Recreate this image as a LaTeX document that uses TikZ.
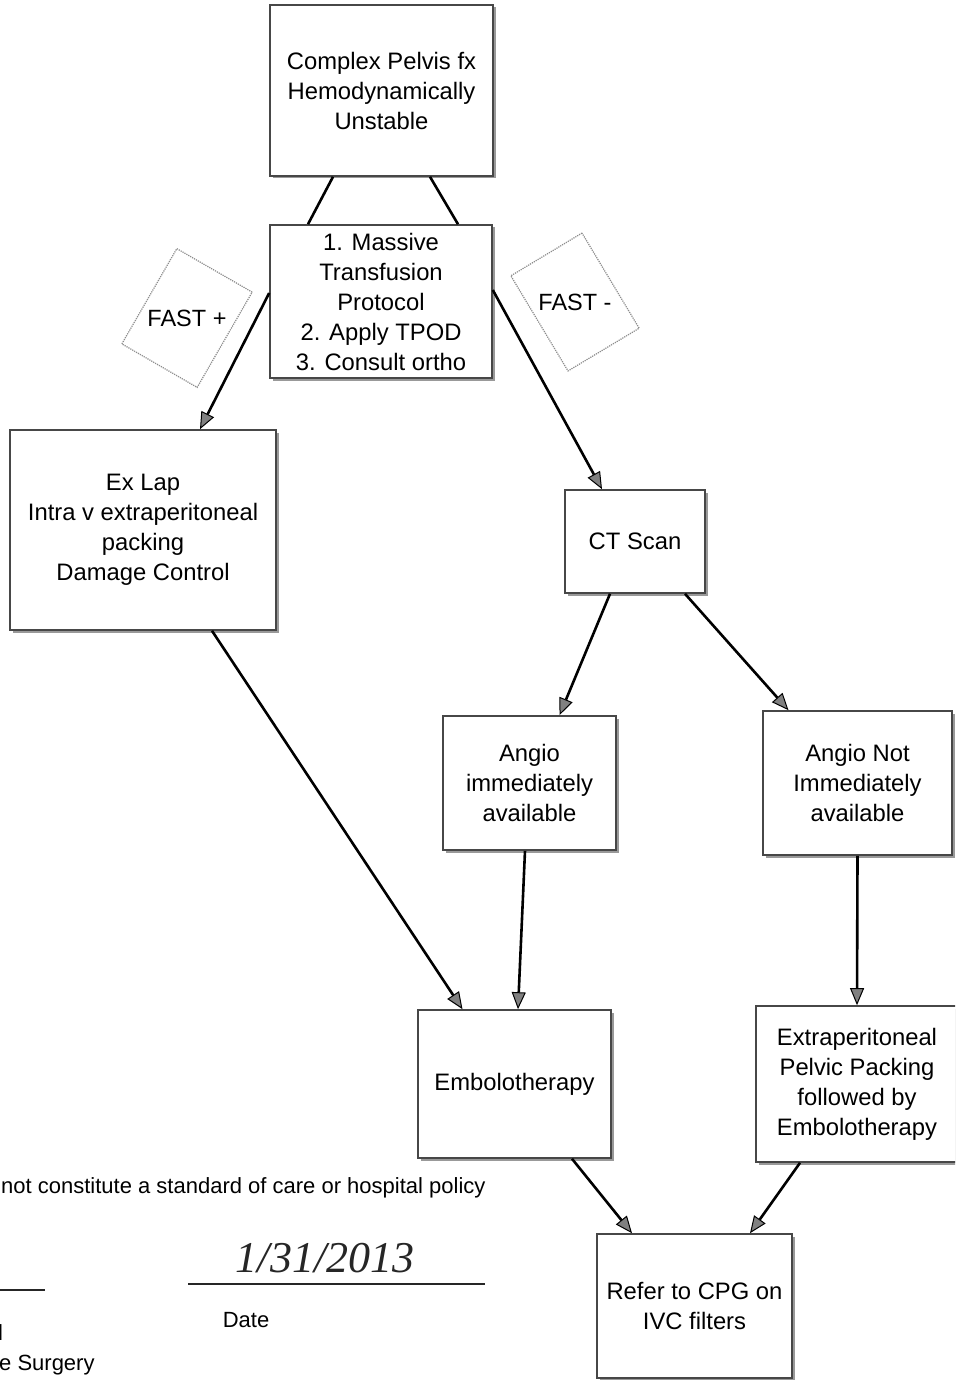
\documentclass[tikz,border=0pt]{standalone}
\usepackage{fontspec}
\setmainfont{Liberation Sans}
\newfontfamily\handfont{Liberation Serif}
\usetikzlibrary{arrows.meta,shadows}
\tikzset{
  box/.style={draw=black!72, line width=1.6pt, fill=white, align=center, inner sep=0pt,
    font=\fontsize{23.8}{30}\selectfont,
    drop shadow={shadow xshift=2.5pt, shadow yshift=-2.5pt, fill=black!40, opacity=1}},
  fastbox/.style={draw=black!45, line width=1.2pt, densely dotted, fill=white, inner sep=0pt},
  fasttext/.style={font=\fontsize{23.5}{30}\selectfont, inner sep=0pt},
  link/.style={draw=black, line width=2.6pt},
  arr/.style={link, -{Triangle[length=17pt,width=14pt,fill=black!50,line width=1pt]}},
  note/.style={font=\fontsize{22}{26}\selectfont, inner sep=0pt}
}
\begin{document}
\begin{tikzpicture}[x=1pt,y=-1pt]
\clip (0,0) rectangle (955,1380);
\fill[white] (0,0) rectangle (955,1380);

% boxes
\node[box, minimum width=223pt, minimum height=171pt] (top) at (381.5,90.5)
  {Complex Pelvis fx\\Hemodynamically\\Unstable};
\node[box, minimum width=222pt, minimum height=153pt] (mtp) at (381,301.5)
  {1. Massive\\Transfusion\\Protocol\\2. Apply TPOD\\3. Consult ortho};
\node[box, minimum width=266pt, minimum height=200pt] (exlap) at (143,530)
  {Ex Lap\\Intra v extraperitoneal\\packing\\Damage Control};
\node[box, minimum width=140pt, minimum height=103pt] (ct) at (635,541.5) {CT Scan};
\node[box, minimum width=173pt, minimum height=134pt] (angio) at (529.5,783)
  {Angio\\immediately\\available};
\node[box, minimum width=189pt, minimum height=144pt] (anot) at (857.5,783)
  {Angio Not\\Immediately\\available};
\node[box, minimum width=193pt, minimum height=148pt] (embolo) at (514.5,1084) {Embolotherapy};
\node[box, minimum width=202pt, minimum height=156pt] (extra) at (857,1084)
  {Extraperitoneal\\Pelvic Packing\\followed by\\Embolotherapy};
\node[box, minimum width=195pt, minimum height=144pt] (refer) at (694.5,1306)
  {Refer to CPG on\\IVC filters};

% FAST labels
\node[fastbox, rotate=-30, minimum width=87pt, minimum height=110pt] (fpbox) at (187,318) {};
\node[fasttext] (fp) at (fpbox.center) {FAST +};
\node[fastbox, rotate=31, minimum width=83pt, minimum height=111pt] (fmbox) at (575,302) {};
\node[fasttext] (fm) at (fmbox.center) {FAST -};

% connectors
\draw[link] ([xshift=-48.5pt]top.south) -- ([xshift=-73pt]mtp.north);
\draw[link] ([xshift=48.5pt]top.south) -- ([xshift=77pt]mtp.north);
\draw[arr] ([yshift=8.5pt]mtp.west) -- ([xshift=57pt]exlap.north);
\draw[arr] ([yshift=11.5pt]mtp.east) -- ([xshift=-33pt]ct.north);
\draw[arr] ([xshift=69pt]exlap.south) -- ([xshift=-52pt]embolo.north);
\draw[arr] ([xshift=-25pt]ct.south) -- ([xshift=30pt]angio.north);
\draw[arr] ([xshift=50pt]ct.south) -- ([xshift=-69pt]anot.north);
\draw[arr] ([xshift=-4.5pt]angio.south) -- ([xshift=3.5pt]embolo.north);
\draw[arr] (anot.south) -- (extra.north);
\draw[arr] ([xshift=57.5pt]embolo.south) -- ([xshift=-62.5pt]refer.north);
\draw[arr] ([xshift=-57pt]extra.south) -- ([xshift=55.5pt]refer.north);

% footer text
\node[note, anchor=base west] (disc) at (1,1193) {not constitute a standard of care or hospital policy};
\draw[line width=2.2pt, black!85] (0,1290) -- (45,1290);
\draw[line width=2.2pt, black!85] (188,1284) -- (485,1284);
\node[note] (date) at (246,1320) {Date};
\node[note, anchor=base west] (ell) at (-2,1340) {l};
\node[note, anchor=base west] (surg) at (-1,1370) {e Surgery};
\node[font=\handfont\itshape\fontsize{44}{44}\selectfont, black!85, inner sep=0pt] (hand) at (325,1258) {1/31/2013};
\end{tikzpicture}
\end{document}
